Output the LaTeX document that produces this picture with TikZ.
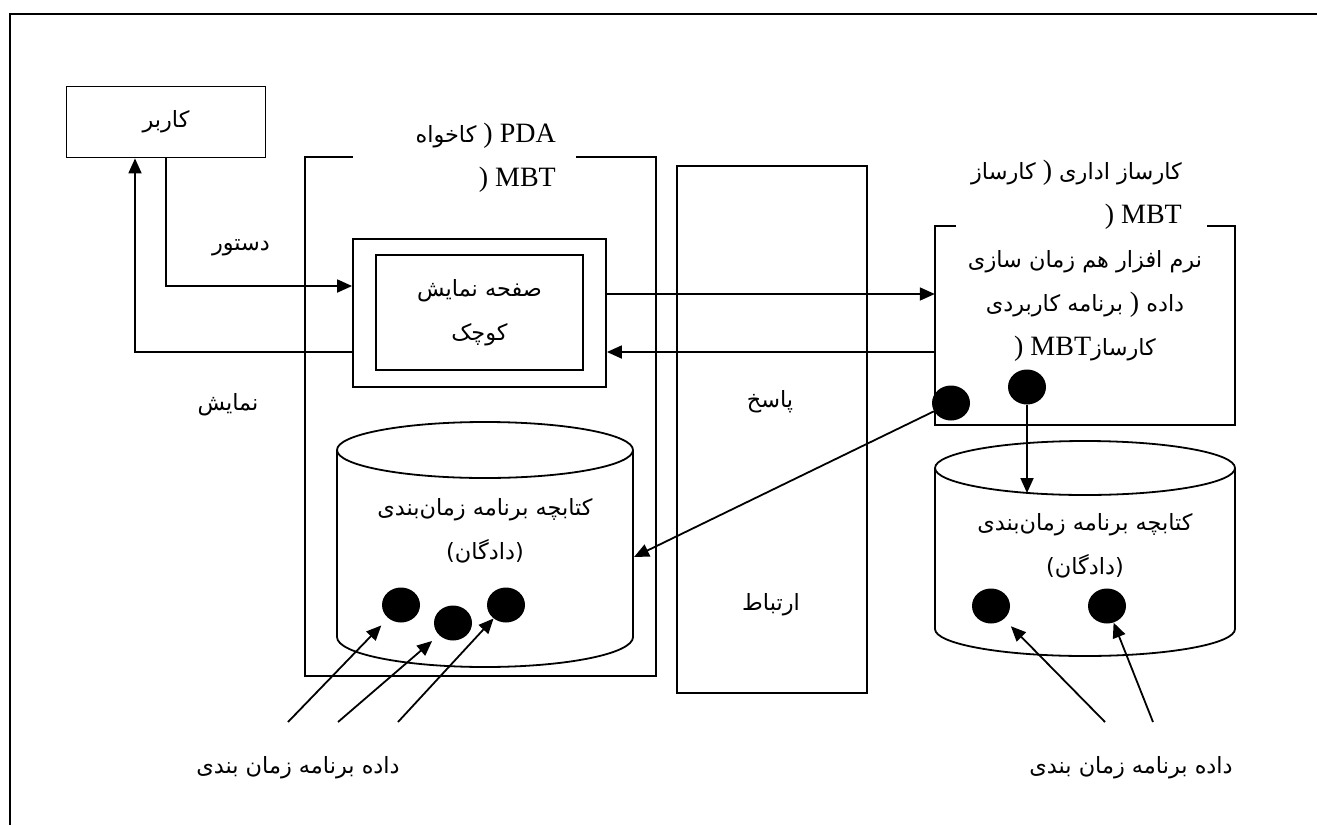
\documentclass[tikz,border=0pt]{standalone}
\usepackage{fontspec}
\setmainfont{Liberation Serif}
\newfontfamily\arabicfont[Script=Arabic,Scale=0.8]{DejaVu Sans}
\TeXXeTstate=1
\usepackage{tikz}
\usetikzlibrary{shapes.geometric, arrows, arrows.meta}
\newcommand{\fa}[1]{{\arabicfont\beginR #1\endR}}
\tikzstyle{box} = [rectangle, draw=black, line width=1.8pt, inner sep=0pt, text centered]
\tikzstyle{zone} = [rectangle, inner sep=0pt]
\tikzstyle{dot} = [ellipse, fill=black, minimum width=38pt, minimum height=35pt, inner sep=0pt]
\tikzstyle{txt} = [font=\fontsize{28}{44}\selectfont, align=center, inner sep=0pt]
\tikzstyle{line} = [line width=1.8pt]
\tikzstyle{arrow} = [line width=1.8pt, -{Triangle[length=15pt,width=13pt]}]

\begin{document}
\begin{tikzpicture}[x=1pt, y=-1pt]
        \useasboundingbox (0,0) rectangle (1317,825);
        \draw [line width=2.2pt] (1317,14) -- (10,14) -- (10,825);
        % user and PDA
        \node (user) [box, txt, minimum width=199pt, minimum height=71pt] at (166,122) {\fa{کاربر}};
        \node (pda) [zone, minimum width=351pt, minimum height=519pt] at (480.5,416.5) {};
        \draw [line] ([xshift=48pt]pda.north west) -- (pda.north west) -- (pda.south west) -- (pda.south east) -- (pda.north east) -- ([xshift=-80pt]pda.north east);
        \node (pdatitle) [txt, anchor=east, align=right] at (556,158) {\fa{کاخواه} ) PDA\\) MBT};
        \node (disp) [box, minimum width=253pt, minimum height=148pt] at (479.5,313) {};
        \node (dispin) [box, txt, minimum width=207pt, minimum height=115pt] at (479.5,312.5) {\fa{صفحه نمایش}\\\fa{کوچک}};
        \node (cmd) [txt] at (241,248) {\fa{دستور}};
        \node (show) [txt] at (228,405) {\fa{نمایش}};
        % link
        \node (link) [box, minimum width=190pt, minimum height=527pt] at (772,429.5) {};
        \node (reply) [txt] at (770,402) {\fa{پاسخ}};
        \node (conn) [txt] at (771,605) {\fa{ارتباط}};
        % sync software
        \node (kms) [zone, minimum width=300pt, minimum height=199pt] at (1085,325.5) {};
        \draw [line] ([xshift=21pt]kms.north west) -- (kms.north west) -- (kms.south west) -- (kms.south east) -- (kms.north east) -- ([xshift=-28pt]kms.north east);
        \node (kmstitle) [txt, anchor=east, align=right] at (1182,195) {\fa{کارساز} ) \fa{کارساز اداری}\\) MBT};
        \node (kmsbody) [txt] at (1085,306) {\fa{نرم افزار هم زمان سازی}\\\fa{برنامه کاربردی} ) \fa{داده}\\) MBT\fa{کارساز}};
        \node (sd1) [dot] at (951,403) {};
        \node (sd2) [dot] at (1027,387) {};
        % books
        \draw [line] (485,450) ellipse [x radius=148, y radius=28];
        \draw [line] (337,450) -- (337,637) arc [start angle=180, end angle=0, x radius=148, y radius=30] -- (633,450);
        \node (lbook) [txt] at (485,531) {\fa{کتابچه برنامه زمان‌بندی}\\\fa{(دادگان)}};
        \draw [line] (1085,468) ellipse [x radius=150, y radius=27];
        \draw [line] (935,468) -- (935,629) arc [start angle=180, end angle=0, x radius=150, y radius=27] -- (1235,468);
        \node (rbook) [txt] at (1085,546) {\fa{کتابچه برنامه زمان‌بندی}\\\fa{(دادگان)}};
        \node (lb1) [dot] at (401,605) {};
        \node (lb2) [dot] at (453,623) {};
        \node (lb3) [dot] at (506,605) {};
        \node (rb1) [dot] at (991,606) {};
        \node (rb2) [dot] at (1107,606) {};
        \node (ldata) [txt] at (298,768) {\fa{داده برنامه زمان بندی}};
        \node (rdata) [txt] at (1131,768) {\fa{داده برنامه زمان بندی}};
        \coordinate (lin) at (634,557);
        \coordinate (rtop) at (1027,493);
        \coordinate (s1) at (288,722);
        \coordinate (s2) at (338,722);
        \coordinate (s3) at (398,722);
        \coordinate (s4) at (1105,722);
        \coordinate (s5) at (1153,722);
        % arrows
        \draw [arrow] (user.south) |- ([yshift=27pt]disp.west);
        \draw [arrow] ([yshift=-39pt]disp.west) -| ([xshift=-31pt]user.south);
        \draw [arrow] ([yshift=19pt]disp.east) -- ([yshift=19pt]disp.east -| kms.west);
        \draw [arrow] ([yshift=-39pt]disp.east -| kms.west) -- ([yshift=-39pt]disp.east);
        \draw [arrow] (sd1) -- (lin);
        \draw [arrow] (sd2) -- (rtop);
        \draw [arrow, shorten >=10pt] (s1) -- (lb1);
        \draw [arrow, shorten >=9pt] (s2) -- (lb2);
        \draw [arrow] (s3) -- (lb3);
        \draw [arrow, shorten >=10pt] (s4) -- (rb1);
        \draw [arrow] (s5) -- (rb2);
    \end{tikzpicture}
\end{document}
